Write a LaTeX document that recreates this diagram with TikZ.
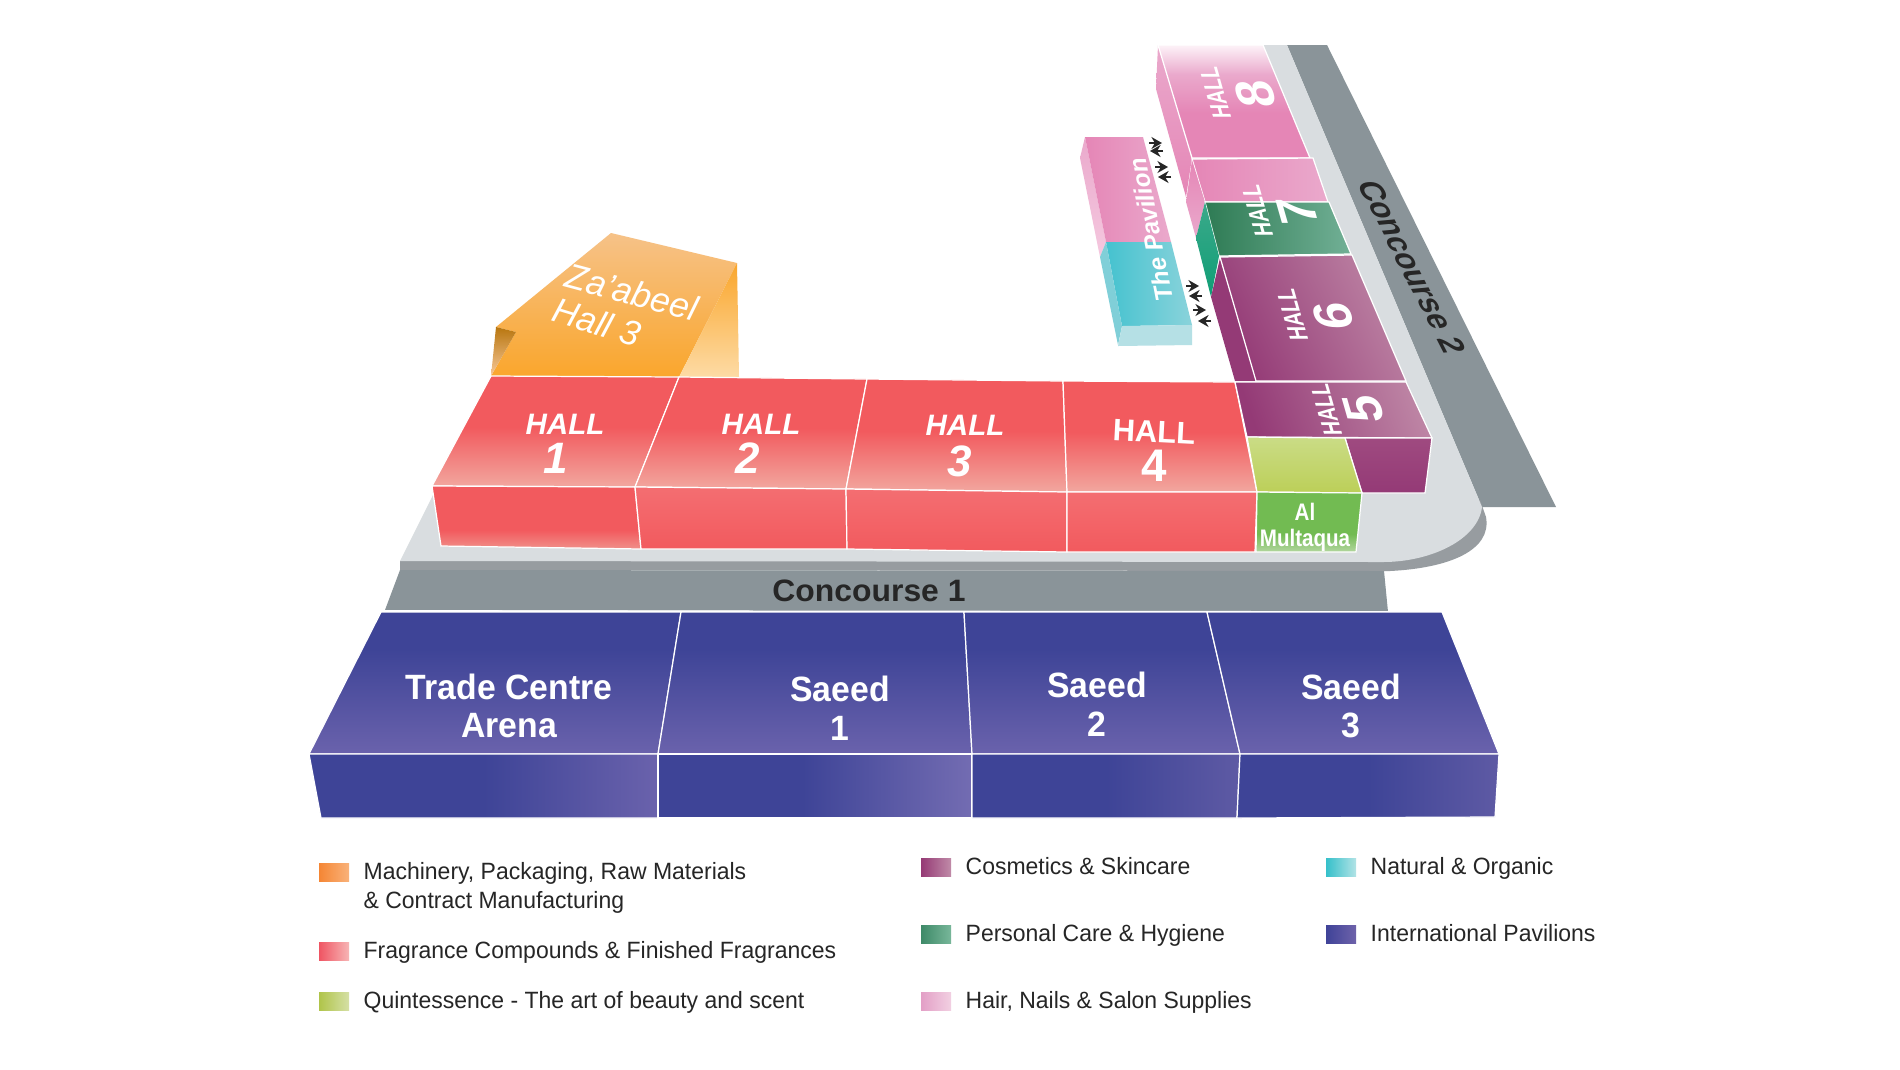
\documentclass[tikz,border=0pt]{standalone}
\usepackage{fontspec}
\setmainfont{Liberation Sans}
\usetikzlibrary{arrows.meta}
\definecolor{floorgrey}{HTML}{D9DDE0}
\definecolor{edgegrey}{HTML}{979CA0}
\definecolor{walkgrey}{HTML}{8A9499}
\definecolor{hallred}{HTML}{F25A5E}
\definecolor{redlight}{HTML}{F0908A}
\definecolor{redpale}{HTML}{F2A79F}
\definecolor{hallblue}{HTML}{3E4497}
\definecolor{bluelight}{HTML}{6A62AC}
\definecolor{bluepale}{HTML}{736CB2}
\definecolor{bluemid}{HTML}{5E5AA4}
\definecolor{hallplum}{HTML}{943A76}
\definecolor{plumlight}{HTML}{BD84A4}
\definecolor{plumside}{HTML}{9F4A80}
\definecolor{hallpink}{HTML}{E586B6}
\definecolor{pinkmid}{HTML}{EAA9CC}
\definecolor{pinkpale}{HTML}{F5C8DF}
\definecolor{pinkwhite}{HTML}{FDF3F8}
\definecolor{hallgreen}{HTML}{2E7B54}
\definecolor{greenlight}{HTML}{72B096}
\definecolor{sidegreen}{HTML}{3BA98A}
\definecolor{sidegreendark}{HTML}{109E76}
\definecolor{limetop}{HTML}{CADC86}
\definecolor{limebottom}{HTML}{BCCF58}
\definecolor{leaf}{HTML}{72BB52}
\definecolor{leaflight}{HTML}{B2D69F}
\definecolor{teal}{HTML}{45C2CF}
\definecolor{teallight}{HTML}{8AD3DB}
\definecolor{tealside}{HTML}{80CFD8}
\definecolor{tealfront}{HTML}{B5E0E5}
\definecolor{orangetop}{HTML}{F6C288}
\definecolor{orangemain}{HTML}{FAA62C}
\definecolor{orangepale}{HTML}{FDDBA5}
\definecolor{folddark}{HTML}{B8760F}
\definecolor{foldmid}{HTML}{F58E2D}
\definecolor{foldpale}{HTML}{F8C898}
\pgfdeclareverticalshading{leaffade}{100bp}{color(0bp)=(leaflight); color(25bp)=(leaflight); color(40bp)=(leaf); color(100bp)=(leaf)}
\pgfdeclareverticalshading{redfade}{100bp}{color(0bp)=(redlight); color(25bp)=(redlight); color(40bp)=(hallred); color(100bp)=(hallred)}
\pgfdeclareverticalshading{redtopfade}{100bp}{color(0bp)=(redpale); color(25bp)=(redpale); color(52bp)=(hallred); color(100bp)=(hallred)}
\pgfdeclareverticalshading{bluefade}{100bp}{color(0bp)=(bluelight); color(25bp)=(bluelight); color(62bp)=(hallblue); color(100bp)=(hallblue)}
\pgfdeclareverticalshading{pinkfade}{100bp}{color(0bp)=(hallpink); color(45bp)=(hallpink); color(62bp)=(pinkmid); color(75bp)=(pinkwhite); color(100bp)=(pinkwhite)}
\pgfdeclarehorizontalshading{bluefrontwide}{100bp}{color(0bp)=(hallblue); color(50bp)=(hallblue); color(75bp)=(bluelight); color(100bp)=(bluelight)}
\pgfdeclarehorizontalshading{bluefrontpale}{100bp}{color(0bp)=(hallblue); color(48bp)=(hallblue); color(75bp)=(bluepale); color(100bp)=(bluepale)}
\pgfdeclarehorizontalshading{bluefrontmid}{100bp}{color(0bp)=(hallblue); color(50bp)=(hallblue); color(75bp)=(bluemid); color(100bp)=(bluemid)}
\begin{document}
\begin{tikzpicture}[x=0.01cm,y=-0.01cm]
  \tikzset{face/.style={draw=white,line width=.35pt},
    redtop/.style={face,shading=redtopfade},
    redfront/.style={face,top color=hallred!88!white,middle color=hallred,bottom color=hallred},
    bluetop/.style={face,shading=bluefade},
    halltext/.style={inner sep=0pt,text=white,font=\bfseries\itshape\fontsize{8.4}{9}\selectfont},
    halldigit/.style={inner sep=0pt,text=white,font=\bfseries\itshape\fontsize{12.5}{13}\selectfont},
    sidetext/.style={inner sep=0pt,text=white,rotate=106,xslant=.287,xscale=.8,font=\bfseries\fontsize{7.2}{8}\selectfont},
    sidedigit/.style={inner sep=0pt,text=white,rotate=106,xslant=.287,font=\bfseries\fontsize{14.5}{15}\selectfont},
    bluetext/.style={inner sep=0pt,text=white,align=center,xscale=.96,font=\bfseries\fontsize{10}{11}\selectfont},
    walktext/.style={inner sep=0pt,text=black!85,font=\bfseries\fontsize{8.8}{9}\selectfont},
    legendtext/.style={inner sep=0pt,anchor=base west,align=left,xscale=.975,text=black!85,font=\fontsize{6.7}{8.2}\selectfont},
    passage/.style={-{Stealth[length=3pt,width=3.4pt]},line width=.8pt,black!85}}
  \useasboundingbox (0,0) rectangle (1900,1069);
  \fill[white] (0,0) rectangle (1900,1069);

  \fill[walkgrey] (1287,45) -- (1327,45) -- (1556,507) -- (1482,507) -- cycle;
  \fill[edgegrey] (400,561) -- (400,570) -- (1390,571) .. controls (1450,568) and (1492,550) .. (1486,517) -- (1480,500) -- cycle;
  \fill[floorgrey] (400,561) -- (432,497) -- (440,480) -- (1300,440) -- (1263,45) -- (1287,45) -- (1482,507) .. controls (1478,540) and (1430,562) .. (1383,562) -- cycle;
  \fill[walkgrey] (400,570) -- (1384,571) -- (1388,612) -- (385,610) -- cycle;
  \draw[white,line width=.5pt] (385,611) -- (1388,612);

  \shade[top color=orangetop,bottom color=orangemain] (611,233) -- (737,263) -- (679,377) -- (491,376) -- (516,332) -- (496,327) -- cycle;
  \shade[top color=orangemain,middle color=orangemain,bottom color=orangepale] (737,263) -- (739,377) -- (679,377) -- cycle;
  \shade[top color=folddark,middle color=foldmid,bottom color=foldpale] (496,327) -- (516,332) -- (491,376) -- cycle;

  \shadedraw[redtop] (491,376) -- (679,377) -- (635,487) -- (432,486) -- cycle;
  \shadedraw[redtop] (679,377) -- (867,379) -- (846,489) -- (635,487) -- cycle;
  \shadedraw[redtop] (867,379) -- (1063,381) -- (1067,492) -- (846,489) -- cycle;
  \shadedraw[redtop] (1063,381) -- (1235,382) -- (1257,492) -- (1067,492) -- cycle;
  \shadedraw[face,shading=redfade] (432,486) -- (635,487) -- (641,549) -- (441,546) -- cycle;
  \shadedraw[redfront] (635,487) -- (846,489) -- (847,549) -- (641,549) -- cycle;
  \shadedraw[redfront] (846,489) -- (1067,492) -- (1067,552) -- (847,549) -- cycle;
  \shadedraw[redfront] (1067,492) -- (1257,492) -- (1255,552) -- (1067,552) -- cycle;

  \shade[top color=pinkmid,middle color=hallpink,bottom color=hallpink] (1158,45) -- (1192,158) -- (1186,197) -- (1156,89) -- cycle;
  \shadedraw[face,shading=pinkfade] (1158,45) -- (1263,45) -- (1310,158) -- (1192,158) -- cycle;
  \shadedraw[face,left color=hallpink,right color=pinkmid] (1192,159) -- (1313,158) -- (1328,202) -- (1205,202) -- cycle;
  \shade[top color=hallpink,bottom color=pinkmid] (1192,160) -- (1205,202) -- (1196,238) -- (1186,202) -- cycle;
  \shadedraw[face,left color=hallgreen,right color=greenlight] (1205,202) -- (1329,202) -- (1351,254) -- (1219,256) -- cycle;
  \shade[top color=sidegreen,bottom color=sidegreendark] (1205,202) -- (1219,256) -- (1211,297) -- (1196,238) -- cycle;
  \fill[hallplum] (1220,258) -- (1256,381) -- (1235,381) -- (1211,297) -- cycle;
  \shadedraw[face,left color=hallplum,middle color=hallplum,right color=plumlight,shading angle=115] (1220,257) -- (1352,255) -- (1406,381) -- (1256,381) -- cycle;
  \shadedraw[face,left color=hallplum,middle color=hallplum,right color=plumlight,shading angle=110] (1235,382) -- (1406,382) -- (1432,438) -- (1247,437) -- cycle;
  \shadedraw[face,top color=plumside,bottom color=hallplum] (1345,438) -- (1432,438) -- (1425,493) -- (1362,493) -- cycle;
  \shadedraw[face,top color=limetop,bottom color=limebottom] (1247,437) -- (1345,438) -- (1362,493) -- (1257,492) -- cycle;
  \shadedraw[face,shading=leaffade] (1257,492) -- (1362,493) -- (1356,552) -- (1256,552) -- cycle;

  \shade[top color=pinkmid,bottom color=pinkpale] (1085,137) -- (1106,242) -- (1100,257) -- (1080,158) -- cycle;
  \shade[left color=hallpink,right color=pinkmid] (1085,137) -- (1143,137) -- (1171,242) -- (1106,242) -- cycle;
  \shade[left color=teal,right color=teallight] (1106,242) -- (1171,242) -- (1192,325) -- (1122,326) -- cycle;
  \fill[tealside] (1106,242) -- (1100,257) -- (1118,345) -- (1122,326) -- cycle;
  \fill[tealfront] (1122,326) -- (1192,325) -- (1192,345) -- (1118,346) -- cycle;

  \shadedraw[bluetop] (381,612) -- (681,612) -- (658,754) -- (309,754) -- cycle;
  \shadedraw[bluetop] (681,612) -- (964,612) -- (972,754) -- (658,754) -- cycle;
  \shadedraw[bluetop] (964,612) -- (1207,612) -- (1240,754) -- (972,754) -- cycle;
  \shadedraw[bluetop] (1207,612) -- (1442,612) -- (1499,754) -- (1240,754) -- cycle;
  \shadedraw[face,shading=bluefrontwide] (309,754) -- (658,754) -- (658,818) -- (321,818) -- cycle;
  \shadedraw[face,shading=bluefrontpale] (658,754) -- (972,754) -- (972,818) -- (658,818) -- cycle;
  \shadedraw[face,shading=bluefrontmid] (972,754) -- (1240,754) -- (1237,818) -- (972,818) -- cycle;
  \shadedraw[face,shading=bluefrontmid] (1240,754) -- (1499,754) -- (1495,817) -- (1237,818) -- cycle;

  \foreach \ya/\xa/\yb/\xb in {143/1149/151/1163,167/1155/177/1171,286/1186/296/1202,310/1193/321/1211}{
    \draw[passage] (\xa,\ya) -- ++(13,0);
    \draw[passage] (\xb,\yb) -- ++(-13,0);
  }

  \node[inner sep=0pt,text=white,rotate=-15,font=\itshape\fontsize{10}{11}\selectfont] (zaabeel) at (632,292) {Za'abeel};
  \node[inner sep=0pt,text=white,rotate=-17,font=\itshape\fontsize{10}{11}\selectfont] (zaabeelhall) at (597,322) {Hall 3};
  \node[halltext] (hallone) at (565,424) {HALL};
  \node[halldigit] (digitone) at (556,458) {1};
  \node[halltext] (halltwo) at (761,424) {HALL};
  \node[halldigit] (digittwo) at (748,458) {2};
  \node[halltext] (hallthree) at (965,425) {HALL};
  \node[halldigit] (digitthree) at (960,461) {3};
  \node[inner sep=0pt,text=white,rotate=-3,font=\bfseries\fontsize{8.8}{9}\selectfont] (hallfour) at (1154,432) {HALL};
  \node[inner sep=0pt,text=white,font=\bfseries\fontsize{13}{14}\selectfont] (digitfour) at (1154,466) {4};
  \node[sidetext] (hallfive) at (1326,410) {HALL};
  \node[sidedigit] (digitfive) at (1364,409) {5};
  \node[sidetext] (hallsix) at (1292,315) {HALL};
  \node[sidedigit] (digitsix) at (1333,316) {6};
  \node[sidetext] (hallseven) at (1257,211) {HALL};
  \node[sidedigit] (digitseven) at (1297,212) {7};
  \node[sidetext] (halleight) at (1215,93) {HALL};
  \node[sidedigit] (digiteight) at (1255,94) {8};
  \node[inner sep=0pt,text=white,xscale=.86,align=center,font=\bfseries\fontsize{6.8}{7.4}\selectfont] (multaqua) at (1305,527) {Al\\Multaqua};
  \node[inner sep=0pt,text=white,rotate=101,font=\bfseries\itshape\fontsize{7}{8}\selectfont] (pavilion) at (1151,230) {The Pavilion};
  \node[walktext,xscale=1.03] (walkone) at (869,591) {Concourse 1};
  \node[walktext,rotate=-63,xslant=.4,xscale=1.03] (walktwo) at (1412,267) {Concourse 2};
  \node[bluetext] (arena) at (509,706) {Trade Centre\\Arena};
  \node[bluetext] (saeedone) at (840,708) {Saeed\\1};
  \node[bluetext] (saeedtwo) at (1097,704) {Saeed\\2};
  \node[bluetext] (saeedthree) at (1351,706) {Saeed\\3};

  \foreach \legx/\legy/\legbase/\lega/\legb/\legtext [count=\legi] in {
    319/863/908/F58634/F9B27A/{Machinery, Packaging, Raw Materials\\\& Contract Manufacturing},
    319/942/958/EF5563/F7B5B5/{Fragrance Compounds \& Finished Fragrances},
    319/992/1008/B0C44A/D5E0A5/{Quintessence - The art of beauty and scent},
    921/858/874/953A75/C08BA8/{Cosmetics \& Skincare},
    921/925/941/3E8A68/78B79A/{Personal Care \& Hygiene},
    921/992/1008/E39FC6/F2D0E2/{Hair, Nails \& Salon Supplies},
    1326/858/874/35C0CA/B2E3E6/{Natural \& Organic},
    1326/925/941/3F4398/6E62AA/{International Pavilions}}{
    \definecolor{legleft}{HTML}{\lega}
    \definecolor{legright}{HTML}{\legb}
    \shade[left color=legleft,middle color=legleft,right color=legright] (\legx,\legy) rectangle ++(30,18);
    \node[legendtext] (legend\legi) at (\legx+44,\legbase) {\legtext};
  }
\end{tikzpicture}
\end{document}
